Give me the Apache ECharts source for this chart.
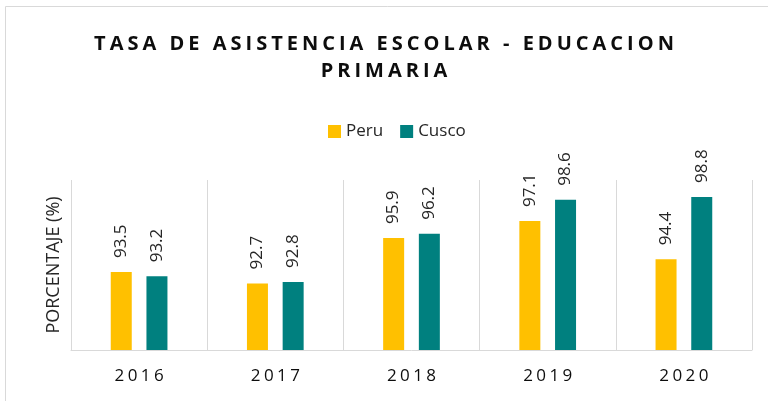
<!DOCTYPE html>
<html>
<head>
<meta charset="utf-8">
<script src="https://cdn.jsdelivr.net/npm/echarts@6/dist/echarts.min.js"></script>
<style>
html, body { margin:0; padding:0; background:#fff; }
#main { width:768px; height:401px; }
</style>
</head>
<body>
<div id="main"></div>
<script>
"use strict";
var years = ['2016', '2017', '2018', '2019', '2020'];
var peru = [93.5, 92.7, 95.9, 97.1, 94.4];
var cusco = [93.2, 92.8, 96.2, 98.6, 98.8];
var titleLines = ['TASA DE ASISTENCIA ESCOLAR - EDUCACION', 'PRIMARIA'];

// no letter-spacing in canvas text, so pad with hair spaces
function spaced(s, sep){ return s.split('').join(sep || '\u200A'); }

var chart = echarts.init(document.getElementById('main'));
var lbl = { show:true, position:'top', rotate:90, align:'left', verticalAlign:'middle', distance:14,
	color:'#262626', fontSize:17, fontFamily:'Open Sans' };

var option = {
	animation: false,
	title: {
		text: titleLines.map(function(t){ return spaced(t, '\u200A\u200A'); }).join('\n'),
		left: 'center', top: 26,
		textStyle: { fontSize:20, fontWeight:'bold', color:'#0D0D0D', fontFamily:'Open Sans', lineHeight:27 }
	},
	legend: {
		data: ['Peru', 'Cusco'], top: 118, left: 323,
		itemWidth: 13, itemHeight: 13, itemGap: 17, icon: 'rect',
		textStyle: { fontSize:17, color:'#262626', fontFamily:'Open Sans' }
	},
	grid: { left:71, right:16, top:180, bottom:51 },
	xAxis: {
		type: 'category', data: years,
		axisLine: { lineStyle: { color:'#D9D9D9', width:1 } },
		axisTick: { show:false },
		splitLine: { show:true, interval:0, lineStyle: { color:'#D9D9D9' } },
		axisLabel: { margin:18, fontSize:17, color:'#0D0D0D', fontFamily:'Open Sans',
			formatter: function(v){ return spaced(v, '\u200A\u200A'); } }
	},
	yAxis: {
		type: 'value', min: 88, max: 100,
		name: 'PORCENTAJE (%)', nameLocation: 'middle', nameGap: 8,
		nameTextStyle: { fontSize:18, color:'#262626', fontFamily:'Open Sans' },
		axisLine: { show:false }, axisTick: { show:false },
		axisLabel: { show:false }, splitLine: { show:false }
	},
	graphic: [{
		type: 'rect', silent: true, z: -1,
		shape: { x:5.5, y:6.5, width:800, height:500 },
		style: { fill:'none', stroke:'#D9D9D9', lineWidth:1 }
	}],
	series: [
		{ name:'Peru', type:'bar', data:peru, barWidth:21, barGap:'70%',
		  itemStyle:{ color:'#FFC000' }, label:lbl },
		{ name:'Cusco', type:'bar', data:cusco, barWidth:21,
		  itemStyle:{ color:'#00807F' }, label:lbl }
	]
};
chart.setOption(option);
</script>
</body>
</html>
